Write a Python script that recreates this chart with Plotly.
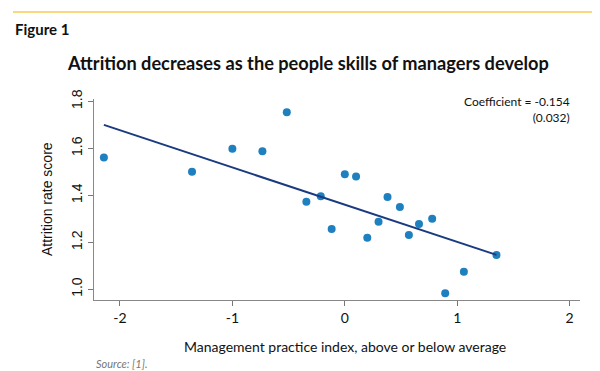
import plotly.graph_objects as go

# Data
mgmt_index = [-2.143, -1.359, -1.0, -0.733, -0.516, -0.342, -0.214, -0.117, 0.0, 0.10,
              0.20, 0.30, 0.38, 0.49, 0.57, 0.66, 0.777, 0.893, 1.059, 1.349]
attrition = [1.561, 1.50, 1.598, 1.588, 1.754, 1.372, 1.396, 1.256, 1.489, 1.480,
             1.219, 1.287, 1.393, 1.35, 1.231, 1.278, 1.30, 0.983, 1.074, 1.146]
fit_x = [-2.143, 1.349]
fit_y = [1.700, 1.146]
x_ticks = [-2, -1, 0, 1, 2]
x_tick_labels = ["-2", "-1", "0", "1", "2"]
y_ticks = [1.0, 1.2, 1.4, 1.6, 1.8]
y_tick_labels = ["1.0", "1.2", "1.4", "1.6", "1.8"]

W, H = 600, 371
L, R, T, B = 86, 28, 91, 79
PW, PH = W - L - R, H - T - B

def px(xp):
    return (xp - L) / PW

def py(yp):
    return (H - B - yp) / PH

fig = go.Figure()
fig.add_trace(go.Scatter(x=mgmt_index, y=attrition, mode="markers",
                         marker=dict(color="#1f80bf", size=8), showlegend=False,
                         hoverinfo="skip"))
fig.add_trace(go.Scatter(x=fit_x, y=fit_y, mode="lines",
                         line=dict(color="#1b3a80", width=2), showlegend=False,
                         hoverinfo="skip"))

fig.update_layout(
    width=W, height=H,
    margin=dict(l=L, r=R, t=T, b=B),
    paper_bgcolor="white", plot_bgcolor="white",
    xaxis=dict(range=[-2.231, 2.092], tickvals=x_ticks, ticktext=x_tick_labels,
               ticks="outside", ticklen=5,
               tickcolor="#777", showline=True, linecolor="#888", linewidth=1,
               showgrid=False, zeroline=False,
               tickfont=dict(family="Lato", size=14, color="#111")),
    yaxis=dict(range=[0.954, 1.81], tickvals=y_ticks, ticktext=y_tick_labels,
               ticks="outside", ticklen=5, tickcolor="#777", showline=True,
               linecolor="#888", linewidth=1, showgrid=False, zeroline=False,
               tickangle=-90,
               tickfont=dict(family="Liberation Sans", size=14, color="#111")),
    shapes=[dict(type="line", xref="paper", yref="paper", x0=px(5), x1=px(596),
                 y0=py(4), y1=py(4), line=dict(color="#fbd77e", width=2))],
    annotations=[
        dict(text="<b>Figure 1</b>", xref="paper", yref="paper", x=px(5), y=py(21),
             xanchor="left", yanchor="middle", showarrow=False,
             font=dict(family="Lato", size=15, color="#111")),
        dict(text="<b>Attrition decreases as the people skills of managers develop</b>",
             xref="paper", yref="paper", x=px(300), y=py(55), xanchor="center",
             yanchor="middle", showarrow=False,
             font=dict(family="Lato", size=18.2, color="#111")),
        dict(text="Attrition rate score", xref="paper", yref="paper", x=px(39),
             y=py(191), textangle=-90, xanchor="center", yanchor="middle",
             showarrow=False, font=dict(family="Liberation Sans", size=14, color="#111")),
        dict(text="Management practice index, above or below average", xref="paper",
             yref="paper", x=px(337), y=py(338), xanchor="center", yanchor="middle",
             showarrow=False, font=dict(family="Lato", size=14, color="#111")),
        dict(text="<i>Source: [1].</i>", xref="paper", yref="paper", x=px(86),
             y=py(355), xanchor="left", yanchor="middle", showarrow=False,
             font=dict(family="Lato", size=11, color="#777")),
        dict(text="Coefficient = -0.154<br>(0.032)", xref="paper", yref="paper",
             x=px(564), y=py(101), xanchor="right", yanchor="middle", align="right",
             showarrow=False, font=dict(family="Lato", size=12, color="#111")),
    ],
)

fig.write_html("out.html")
